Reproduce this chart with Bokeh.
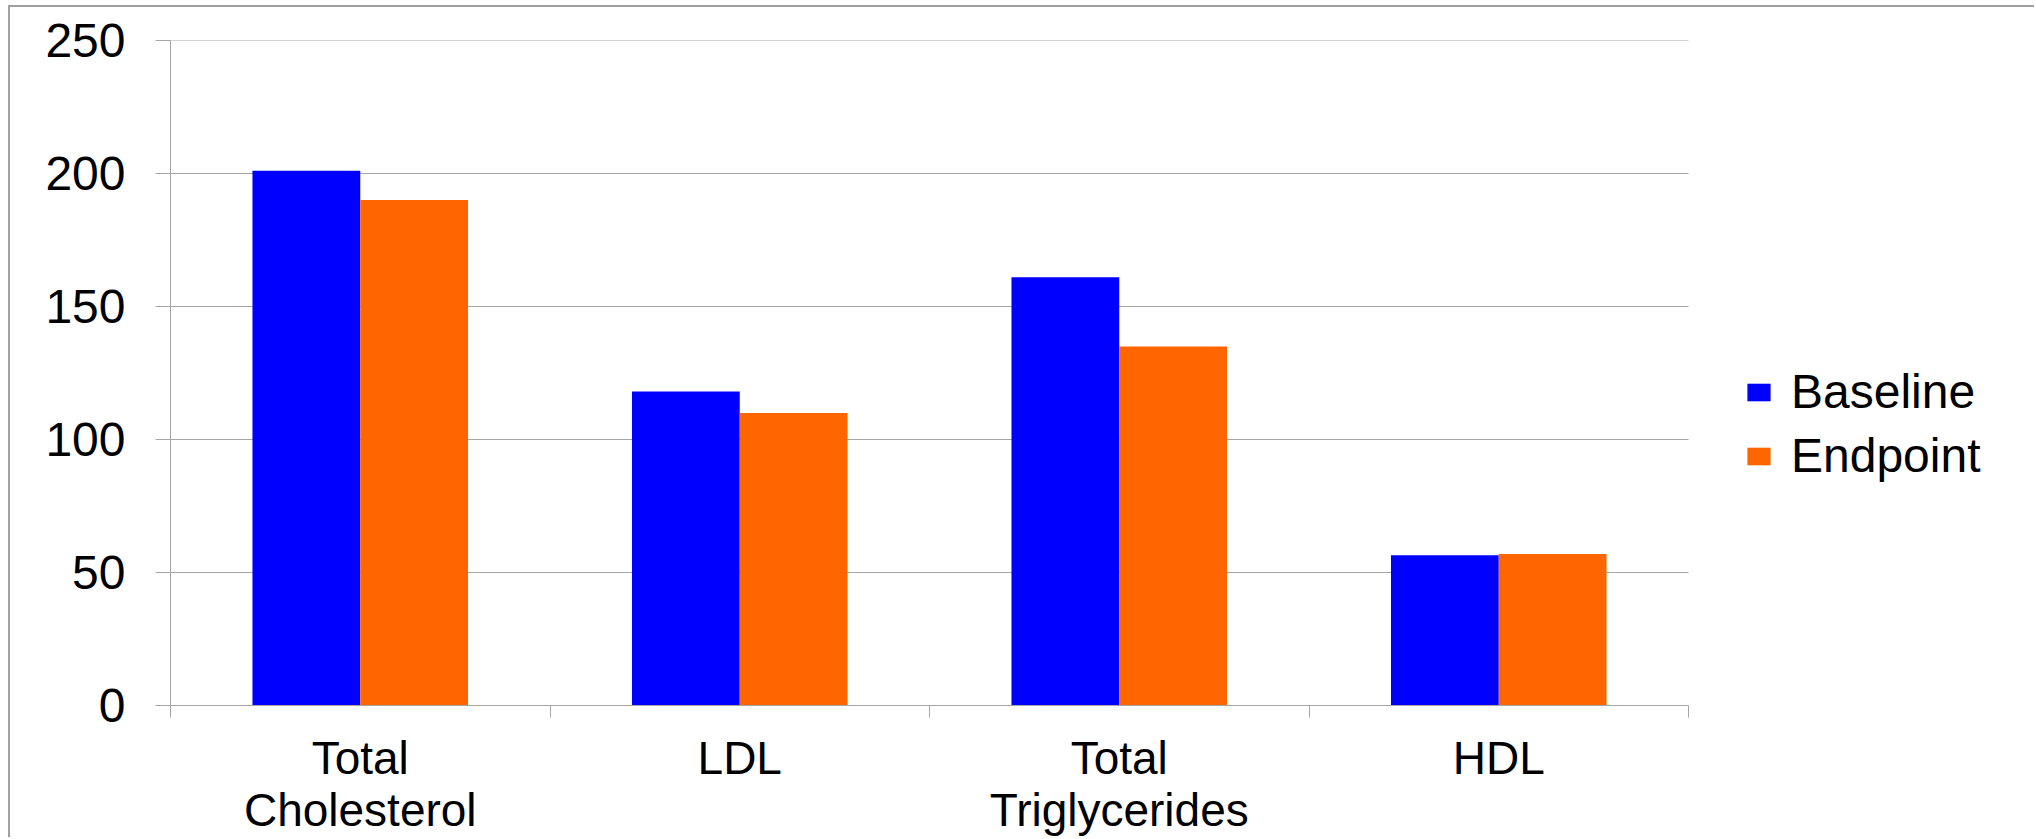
import numpy as np
from bokeh.plotting import figure
from bokeh.models import FixedTicker, Range1d, Legend, LegendItem, ColumnDataSource
from bokeh.embed import file_html
from bokeh.resources import INLINE

categories = ["Total\nCholesterol", "LDL", "Total\nTriglycerides", "HDL"]
baseline = [201, 118, 161, 56.5]
endpoint = [190, 110, 135, 57]
y_ticks = [0, 50, 100, 150, 200, 250]
series_names = ["Baseline", "Endpoint"]
colors = ["#0000FF", "#FF6600"]

FONT = "Liberation Sans"
GREY = "#A6A6A6"

n = len(categories)
idx = np.arange(n)
bar_w = 0.284
centers = idx + 0.5

# plot area spans 1518 px for the categories; the frame reaches the right edge
# so that the legend (drawn inside the frame) is not clipped
FRAME_W = 1866
CAT_W = 1518
x_end = n * FRAME_W / CAT_W

p = figure(width=2026, height=832, output_backend="svg", toolbar_location=None,
           x_range=Range1d(0, x_end), y_range=Range1d(0, 250),
           min_border_left=160, min_border_right=0, min_border_top=33, min_border_bottom=134,
           margin=(5, 0, 0, 8),
           styles={"border-top": "2px solid #A0A0A0", "border-left": "2px solid #A0A0A0"})
p.outline_line_color = None
p.background_fill_color = "white"

# horizontal gridlines limited to the category span
p.xgrid.grid_line_color = None
p.ygrid.grid_line_color = None
p.segment(x0=[0] * len(y_ticks), x1=[n] * len(y_ticks), y0=y_ticks, y1=y_ticks,
          line_color=GREY, line_width=1, level="underlay")

src = ColumnDataSource(dict(xb=centers - bar_w / 2, xe=centers + bar_w / 2,
                            base=baseline, end=endpoint))
rb = p.vbar(x="xb", top="base", width=bar_w, bottom=0, source=src,
            fill_color=colors[0], line_color=None)
re_ = p.vbar(x="xe", top="end", width=bar_w, bottom=0, source=src,
             fill_color=colors[1], line_color=None)

# y axis
p.yaxis.ticker = FixedTicker(ticks=y_ticks)
p.yaxis.major_tick_out = 15
p.yaxis.major_tick_in = 0
p.yaxis.minor_tick_out = 0
p.yaxis.minor_tick_in = 0
p.yaxis.axis_line_color = GREY
p.yaxis.major_tick_line_color = GREY
p.yaxis.major_label_text_font = FONT
p.yaxis.major_label_text_font_size = "48px"
p.yaxis.major_label_text_color = "black"
p.yaxis.major_label_standoff = 30

# x axis: labels at centers, ticks at category boundaries
p.xaxis.bounds = (0, n)
p.xaxis.ticker = FixedTicker(ticks=list(centers), minor_ticks=list(range(n + 1)))
p.xaxis.major_label_overrides = {float(c): lab for c, lab in zip(centers, categories)}
p.xaxis.major_tick_out = 0
p.xaxis.major_tick_in = 0
p.xaxis.minor_tick_out = 12
p.xaxis.minor_tick_in = 0
p.xaxis.minor_tick_line_color = GREY
p.xaxis.axis_line_color = GREY
p.xaxis.major_label_text_font = FONT
p.xaxis.major_label_text_font_size = "46px"
p.xaxis.major_label_text_color = "black"
p.xaxis.major_label_standoff = 14
p.xaxis.major_label_text_line_height = 1.0

legend = Legend(items=[LegendItem(label=series_names[0], renderers=[rb]),
                       LegendItem(label=series_names[1], renderers=[re_])],
                location=(1574, 222), padding=0, margin=0, spacing=9,
                glyph_width=29, glyph_height=22, label_standoff=18,
                label_text_font=FONT, label_text_font_size="48px",
                label_text_color="black",
                border_line_color=None, background_fill_alpha=0)
p.add_layout(legend, "center")

open("out.html", "w").write(file_html(p, INLINE))
